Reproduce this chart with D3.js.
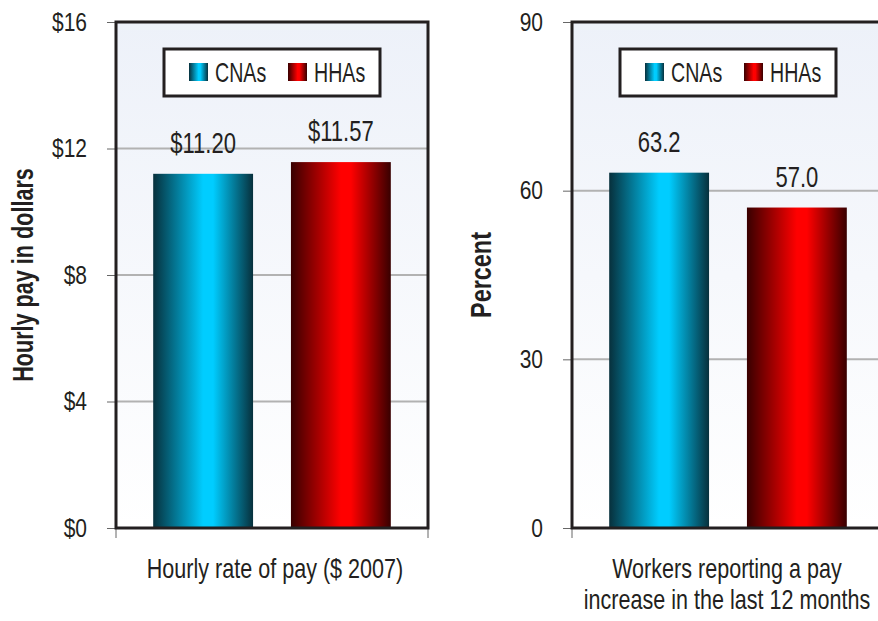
<html>
<head>
<meta charset="utf-8">
<title>CNA and HHA pay</title>
<style>
  body { margin: 0; background: #fff; }
  svg text { font-family: "Liberation Sans", Arial, sans-serif; fill: #231f20; }
  .tick line { stroke: #666; stroke-width: 1; }
  .domain { display: none; }
</style>
<script src="https://cdn.jsdelivr.net/npm/d3@7"></script>
</head>
<body>
<div id="chart"></div>
<script>
// data
var groups = ['CNAs', 'HHAs'];
var payValues = [11.20, 11.57];
var raiseValues = [63.2, 57.0];
var payTicks = [0, 4, 8, 12, 16];
var raiseTicks = [0, 30, 60, 90];
var payLabels = ['$11.20', '$11.57'];
var raiseLabels = ['63.2', '57.0'];

var svg = d3.select('#chart')
    .append('svg')
    .attr('width', 878)
    .attr('height', 621);

var defs = svg.append('defs');

function barGradient(id, edge, mid) {
    var g = defs.append('linearGradient')
        .attr('id', id)
        .attr('x1', '0%').attr('x2', '100%')
        .attr('y1', '0%').attr('y2', '0%');
    g.append('stop').attr('offset', '0%').attr('stop-color', edge);
    g.append('stop').attr('offset', '50%').attr('stop-color', mid);
    g.append('stop').attr('offset', '60%').attr('stop-color', mid);
    g.append('stop').attr('offset', '100%').attr('stop-color', edge);
}
barGradient('grad-cna', '#07303c', '#00cdff');
barGradient('grad-hha', '#380000', '#ff0000');
var fills = ['url(#grad-cna)', 'url(#grad-hha)'];

var bg = defs.append('linearGradient')
    .attr('id', 'grad-bg')
    .attr('x1', '0%').attr('x2', '0%')
    .attr('y1', '0%').attr('y2', '100%');
bg.append('stop').attr('offset', '0%').attr('stop-color', '#edf1f9');
bg.append('stop').attr('offset', '100%').attr('stop-color', '#ffffff');

var plotW = 312, plotTop = 22, plotBottom = 528;

// the original face is a condensed one, so squeeze the glyphs a bit
function squeeze(sel, k) {
    sel.each(function() {
        var w = this.getComputedTextLength();
        d3.select(this)
            .attr('textLength', w * k)
            .attr('lengthAdjust', 'spacingAndGlyphs');
    });
}

function panel(opts) {
    var left = opts.left;
    var g = svg.append('g');

    var x = d3.scaleBand()
        .domain(groups)
        .range([left, left + plotW])
        .paddingInner(0.275)
        .paddingOuter(0.27);

    var y = d3.scaleLinear()
        .domain([0, d3.max(opts.ticks)])
        .range([plotBottom, plotTop]);

    // plot background
    g.append('rect')
        .attr('x', left).attr('y', plotTop)
        .attr('width', plotW).attr('height', plotBottom - plotTop)
        .attr('fill', 'url(#grad-bg)');

    // gridlines
    g.selectAll('.grid')
        .data(opts.ticks.slice(1, -1))
        .join('line')
        .attr('x1', left).attr('x2', left + plotW)
        .attr('y1', function(d) { return y(d); })
        .attr('y2', function(d) { return y(d); })
        .attr('stroke', '#b2b2b2')
        .attr('stroke-width', 2);

    // y axis
    var yAxis = g.append('g')
        .attr('transform', 'translate(' + left + ',0)')
        .call(d3.axisLeft(y)
            .tickValues(opts.ticks)
            .tickFormat(opts.fmt)
            .tickSize(9)
            .tickPadding(20));
    yAxis.selectAll('text')
        .style('font-size', '25px')
        .call(squeeze, 0.84);

    // bottom ticks at the frame corners
    g.selectAll('.xtick')
        .data([left, left + plotW])
        .join('line')
        .attr('x1', function(d) { return d; })
        .attr('x2', function(d) { return d; })
        .attr('y1', plotBottom).attr('y2', plotBottom + 10)
        .attr('stroke', '#666');

    // bars
    g.selectAll('.bar')
        .data(opts.values)
        .join('rect')
        .attr('x', function(d, i) { return x(groups[i]); })
        .attr('y', function(d) { return y(d); })
        .attr('width', x.bandwidth())
        .attr('height', function(d) { return plotBottom - y(d); })
        .attr('fill', function(d, i) { return fills[i]; });

    // value labels
    g.selectAll('.val')
        .data(opts.values)
        .join('text')
        .attr('x', function(d, i) { return x(groups[i]) + x.bandwidth() / 2; })
        .attr('y', function(d) { return y(d) - 21; })
        .attr('text-anchor', 'middle')
        .style('font-size', '29px')
        .text(function(d, i) { return opts.labels[i]; })
        .call(squeeze, 0.76);

    // frame
    g.append('rect')
        .attr('x', left).attr('y', plotTop)
        .attr('width', plotW).attr('height', plotBottom - plotTop)
        .attr('fill', 'none')
        .attr('stroke', '#231f20')
        .attr('stroke-width', 3);

    // legend
    var lx = left + 48, ly = 49;
    var lg = g.append('g').attr('transform', 'translate(' + lx + ',' + ly + ')');
    lg.append('rect')
        .attr('width', 216).attr('height', 47)
        .attr('fill', '#fff')
        .attr('stroke', '#231f20')
        .attr('stroke-width', 3);
    var item = lg.selectAll('.item')
        .data(groups)
        .join('g')
        .attr('transform', function(d, i) { return 'translate(' + (25 + i * 99) + ',14)'; });
    item.append('rect')
        .attr('width', 19).attr('height', 18)
        .attr('fill', function(d, i) { return fills[i]; });
    item.append('text')
        .attr('x', 26).attr('y', 19)
        .style('font-size', '28px')
        .text(function(d) { return d; })
        .call(squeeze, 0.7);

    // y title
    g.append('text')
        .attr('transform', 'translate(' + opts.ytx + ',' + (plotTop + plotBottom) / 2 + ') rotate(-90)')
        .attr('text-anchor', 'middle')
        .style('font-size', '30px')
        .style('font-weight', 'bold')
        .text(opts.ytitle)
        .call(squeeze, opts.ysq);

    // x title
    var xt = g.append('text')
        .attr('y', 578)
        .attr('text-anchor', 'middle')
        .style('font-size', '28px');
    xt.selectAll('tspan')
        .data(opts.xtitle)
        .join('tspan')
        .attr('x', left + plotW / 2 + opts.xoff)
        .attr('dy', function(d, i) { return i ? 31 : 0; })
        .text(function(d) { return d; })
        .call(squeeze, 0.77);
}

panel({
    left: 116,
    values: payValues,
    labels: payLabels,
    ticks: payTicks,
    fmt: function(d) { return '$' + d; },
    ytitle: 'Hourly pay in dollars',
    ytx: 33,
    ysq: 0.72,
    xoff: 3,
    xtitle: ['Hourly rate of pay ($ 2007)']
});

panel({
    left: 572,
    values: raiseValues,
    labels: raiseLabels,
    ticks: raiseTicks,
    fmt: function(d) { return d; },
    ytitle: 'Percent',
    ytx: 491,
    ysq: 0.78,
    xoff: -1,
    xtitle: ['Workers reporting a pay', 'increase in the last 12 months']
});
</script>
</body>
</html>
